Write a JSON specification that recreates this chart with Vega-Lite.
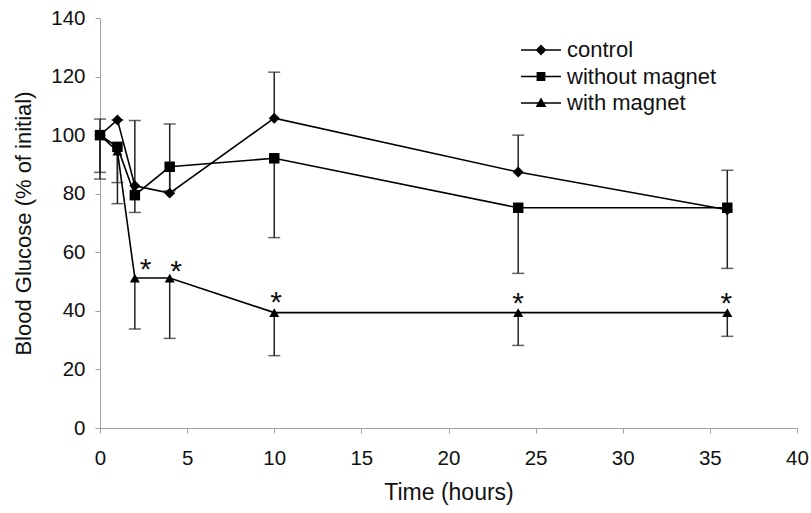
{
  "$schema": "https://vega.github.io/schema/vega-lite/v6.json",
  "width": 697,
  "height": 410,
  "autosize": {"type": "none"},
  "padding": {"left": 100, "top": 18, "right": 14, "bottom": 85},
  "background": "white",
  "config": {
    "view": {"stroke": null},
    "font": "Liberation Sans",
    "axis": {
      "grid": false,
      "labelFlush": false,
      "domainColor": "#a0a0a0",
      "domainWidth": 1,
      "tickColor": "#a0a0a0",
      "tickSize": 5,
      "labelFont": "Liberation Sans",
      "labelFontSize": 20.5,
      "labelColor": "#111111",
      "titleFont": "Liberation Sans",
      "titleFontWeight": "normal",
      "titleColor": "#111111"
    },
    "legend": {
      "labelFont": "Liberation Sans",
      "labelFontSize": 22,
      "labelColor": "#111111"
    }
  },
  "datasets": {
    "glucose": [
      {"series": "control", "time": 0, "value": 100, "err": 105.5},
      {"series": "control", "time": 1, "value": 105.2, "err": 105.2},
      {"series": "control", "time": 2, "value": 82.7, "err": 105},
      {"series": "control", "time": 4, "value": 80.2, "err": 103.8},
      {"series": "control", "time": 10, "value": 105.8, "err": 121.5},
      {"series": "control", "time": 24, "value": 87.4, "err": 100},
      {"series": "control", "time": 36, "value": 74.5, "err": 88},
      {"series": "without magnet", "time": 0, "value": 100, "err": 87.3},
      {"series": "without magnet", "time": 1, "value": 96, "err": 83.8},
      {"series": "without magnet", "time": 2, "value": 79.5, "err": 73.6},
      {"series": "without magnet", "time": 4, "value": 89.2, "err": 81},
      {"series": "without magnet", "time": 10, "value": 92.1, "err": 65},
      {"series": "without magnet", "time": 24, "value": 75.2, "err": 52.8},
      {"series": "without magnet", "time": 36, "value": 75.2, "err": 54.5},
      {"series": "with magnet", "time": 0, "value": 100, "err": 85},
      {"series": "with magnet", "time": 1, "value": 94.5, "err": 76.6},
      {"series": "with magnet", "time": 2, "value": 51.2, "err": 33.8},
      {"series": "with magnet", "time": 4, "value": 51.2, "err": 30.6},
      {"series": "with magnet", "time": 10, "value": 39.4, "err": 24.7},
      {"series": "with magnet", "time": 24, "value": 39.4, "err": 28.2},
      {"series": "with magnet", "time": 36, "value": 39.4, "err": 31.3}
    ],
    "stars": [
      {"time": 2.62, "value": 56.8, "label": "*"},
      {"time": 4.36, "value": 56, "label": "*"},
      {"time": 10.1, "value": 45.5, "label": "*"},
      {"time": 24.0, "value": 45.2, "label": "*"},
      {"time": 35.95, "value": 45.2, "label": "*"}
    ]
  },
  "layer": [
    {
      "data": {"name": "glucose"},
      "mark": {"type": "rule", "color": "#222222", "strokeWidth": 1.5},
      "encoding": {
        "x": {"field": "time", "type": "quantitative", "scale": {"domain": [0, 40], "nice": false},
          "axis": {"values": [0, 5, 10, 15, 20, 25, 30, 35, 40], "title": "Time (hours)", "titleFontSize": 23, "labelPadding": 15, "titlePadding": 13}},
        "y": {"field": "value", "type": "quantitative", "scale": {"domain": [0, 140], "nice": false},
          "axis": {"values": [0, 20, 40, 60, 80, 100, 120, 140], "title": "Blood Glucose (% of initial)", "titleFontSize": 22, "labelPadding": 10, "titlePadding": 15}},
        "y2": {"field": "err"}
      }
    },
    {
      "data": {"name": "glucose"},
      "mark": {"type": "tick", "orient": "horizontal", "color": "#222222", "thickness": 1.5, "size": 12},
      "encoding": {
        "x": {"field": "time", "type": "quantitative"},
        "y": {"field": "err", "type": "quantitative"}
      }
    },
    {
      "data": {"name": "glucose"},
      "mark": {"type": "line", "color": "black", "strokeWidth": 1.6},
      "encoding": {
        "x": {"field": "time", "type": "quantitative"},
        "y": {"field": "value", "type": "quantitative"},
        "detail": {"field": "series"}
      }
    },
    {
      "data": {"name": "glucose"},
      "mark": {"type": "point", "filled": true, "color": "black", "opacity": 1},
      "encoding": {
        "x": {"field": "time", "type": "quantitative"},
        "y": {"field": "value", "type": "quantitative"},
        "shape": {"field": "series", "type": "nominal",
          "scale": {"domain": ["control", "without magnet", "with magnet"], "range": ["diamond", "square", "triangle-up"]},
          "legend": null},
        "size": {"field": "series", "type": "nominal",
          "scale": {"domain": ["control", "without magnet", "with magnet"], "range": [120, 100, 130]},
          "legend": null}
      }
    },
    {
      "data": {"name": "glucose"},
      "mark": {"type": "point", "filled": true, "color": "black", "opacity": 0},
      "encoding": {
        "x": {"field": "time", "type": "quantitative"},
        "y": {"field": "value", "type": "quantitative"},
        "shape": {"field": "series", "type": "nominal",
          "scale": {"domain": ["control", "without magnet", "with magnet"],
            "range": [
              "M-2,-0.08L2,-0.08L2,0.08L-2,0.08ZM0,-0.54L0.54,0L0,0.54L-0.54,0Z",
              "M-2,-0.08L2,-0.08L2,0.08L-2,0.08ZM-0.44,-0.44L0.44,-0.44L0.44,0.44L-0.44,0.44Z",
              "M-2,-0.08L2,-0.08L2,0.08L-2,0.08ZM0,-0.56L0.54,0.4L-0.54,0.4Z"
            ]},
          "legend": {
            "title": null,
            "orient": "none",
            "legendX": 430,
            "legendY": 21,
            "symbolSize": 400,
            "symbolOpacity": 1,
            "symbolFillColor": "black",
            "symbolStrokeWidth": 0,
            "labelOffset": 15,
            "rowPadding": 4.5
          }}
      }
    },
    {
      "data": {"name": "stars"},
      "mark": {"type": "text", "fontSize": 30, "font": "Liberation Sans", "color": "#111111", "baseline": "alphabetic", "dy": 17},
      "encoding": {
        "x": {"field": "time", "type": "quantitative"},
        "y": {"field": "value", "type": "quantitative"},
        "text": {"field": "label"}
      }
    }
  ],
  "resolve": {"scale": {"shape": "independent", "size": "independent"}}
}
